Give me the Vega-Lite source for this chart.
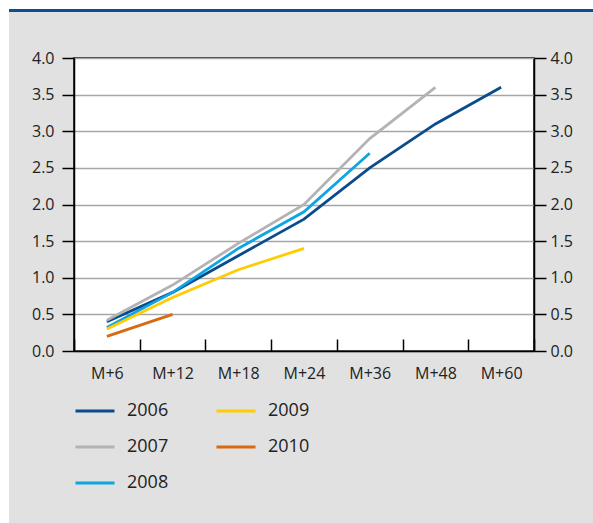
{
  "$schema": "https://vega.github.io/schema/vega-lite/v6.json",
  "background": "#e1e1e1",
  "padding": 0,
  "spacing": 0,
  "config": {
    "view": {"stroke": null},
    "font": "Open Sans",
    "axis": {"labelFont": "Open Sans", "labelFontSize": 16, "labelColor": "#222222", "title": null},
    "legend": {"labelFont": "Open Sans"}
  },
  "resolve": {"legend": {"color": "independent"}, "scale": {"color": "independent"}},
  "hconcat": [
    {
      "width": 9,
      "height": 523,
      "data": {"values": [{}]},
      "mark": {"type": "rect", "opacity": 0},
      "encoding": {},
      "view": {"fill": "white", "stroke": null}
    },
    {
      "spacing": 0,
      "resolve": {"legend": {"color": "independent"}, "scale": {"color": "independent"}},
      "vconcat": [
        {
          "width": 584,
          "height": 9,
          "data": {"values": [{}]},
          "mark": {"type": "rect", "opacity": 0},
          "encoding": {},
          "view": {"fill": "white", "stroke": null}
        },
        {
          "width": 584,
          "height": 3,
          "data": {"values": [{}]},
          "mark": {"type": "rect", "opacity": 0},
          "encoding": {},
          "view": {"fill": "#0b4f93", "stroke": null}
        },
        {
          "width": 584,
          "height": 37,
          "data": {"values": [{}]},
          "mark": {"type": "rect", "opacity": 0},
          "encoding": {},
          "view": {"fill": null, "stroke": null}
        },
        {
          "spacing": 0,
          "resolve": {"legend": {"color": "independent"}, "scale": {"color": "independent"}},
          "hconcat": [
            {
              "width": 21,
              "height": 1,
              "data": {"values": [{}]},
              "mark": {"type": "rect", "opacity": 0},
              "encoding": {},
              "view": {"fill": null, "stroke": null}
            },
            {
              "width": 460,
              "height": 293,
              "view": {"fill": "white", "stroke": "black", "strokeWidth": 1.5},
              "data": {"values": [
                {"year": "2006", "period": "M+6", "months": 6, "value": 0.4},
                {"year": "2006", "period": "M+12", "months": 12, "value": 0.8},
                {"year": "2006", "period": "M+18", "months": 18, "value": 1.3},
                {"year": "2006", "period": "M+24", "months": 24, "value": 1.8},
                {"year": "2006", "period": "M+36", "months": 36, "value": 2.5},
                {"year": "2006", "period": "M+48", "months": 48, "value": 3.1},
                {"year": "2006", "period": "M+60", "months": 60, "value": 3.6},
                {"year": "2007", "period": "M+6", "months": 6, "value": 0.42},
                {"year": "2007", "period": "M+12", "months": 12, "value": 0.9},
                {"year": "2007", "period": "M+18", "months": 18, "value": 1.47},
                {"year": "2007", "period": "M+24", "months": 24, "value": 2.0},
                {"year": "2007", "period": "M+36", "months": 36, "value": 2.9},
                {"year": "2007", "period": "M+48", "months": 48, "value": 3.6},
                {"year": "2008", "period": "M+6", "months": 6, "value": 0.32},
                {"year": "2008", "period": "M+12", "months": 12, "value": 0.8},
                {"year": "2008", "period": "M+18", "months": 18, "value": 1.4},
                {"year": "2008", "period": "M+24", "months": 24, "value": 1.9},
                {"year": "2008", "period": "M+36", "months": 36, "value": 2.7},
                {"year": "2009", "period": "M+6", "months": 6, "value": 0.3},
                {"year": "2009", "period": "M+12", "months": 12, "value": 0.73},
                {"year": "2009", "period": "M+18", "months": 18, "value": 1.11},
                {"year": "2009", "period": "M+24", "months": 24, "value": 1.4},
                {"year": "2010", "period": "M+6", "months": 6, "value": 0.2},
                {"year": "2010", "period": "M+12", "months": 12, "value": 0.5}
              ]},
              "encoding": {
                "x": {
                  "field": "period",
                  "type": "ordinal",
                  "sort": ["M+6", "M+12", "M+18", "M+24", "M+36", "M+48", "M+60"],
                  "scale": {"paddingInner": 0, "paddingOuter": 0},
                  "axis": {
                    "orient": "bottom",
                    "labelAngle": 0,
                    "tickBand": "extent",
                    "tickSize": -12,
                    "tickColor": "black",
                    "tickWidth": 1.5,
                    "domainColor": "black",
                    "domainWidth": 1.5,
                    "labelPadding": 26,
                    "grid": false
                  }
                }
              },
              "layer": [
                {
                  "mark": {"type": "line", "strokeWidth": 2.8},
                  "encoding": {
                    "y": {
                      "field": "value",
                      "type": "quantitative",
                      "scale": {"domain": [0, 4], "nice": false},
                      "axis": {
                        "orient": "left",
                        "values": [0, 0.5, 1, 1.5, 2, 2.5, 3, 3.5, 4],
                        "format": ".1f",
                        "grid": true,
                        "gridColor": "#a6a6a6",
                        "gridWidth": 1.5,
                        "domainColor": "black",
                        "domainWidth": 1.5,
                        "tickColor": "black",
                        "tickWidth": 1.5,
                        "tickSize": 12,
                        "labelPadding": 8
                      }
                    },
                    "color": {
                      "field": "year",
                      "type": "nominal",
                      "scale": {
                        "domain": ["2006", "2009", "2007", "2010", "2008"],
                        "range": ["#0a4b8c", "#ffcc00", "#b3b3b3", "#d9690f", "#0ea5e4"]
                      },
                      "legend": {
                        "title": null,
                        "orient": "bottom",
                        "direction": "horizontal",
                        "columns": 2,
                        "symbolType": "stroke",
                        "symbolSize": 1521,
                        "symbolStrokeWidth": 3,
                        "labelFontSize": 18,
                        "labelColor": "#222222",
                        "labelOffset": 11,
                        "columnPadding": 41,
                        "rowPadding": 6,
                        "offset": 9
                      }
                    },
                    "order": {"field": "months", "type": "quantitative"}
                  }
                },
                {
                  "mark": {"type": "point", "opacity": 0},
                  "encoding": {
                    "y": {
                      "field": "value",
                      "type": "quantitative",
                      "scale": {"domain": [0, 4], "nice": false},
                      "axis": {
                        "orient": "right",
                        "values": [0, 0.5, 1, 1.5, 2, 2.5, 3, 3.5, 4],
                        "format": ".1f",
                        "grid": false,
                        "domainColor": "black",
                        "domainWidth": 1.5,
                        "tickColor": "black",
                        "tickWidth": 1.5,
                        "tickSize": 12,
                        "labelPadding": 4
                      }
                    }
                  }
                }
              ],
              "resolve": {"scale": {"y": "shared"}, "axis": {"y": "independent"}}
            }
          ]
        }
      ]
    }
  ]
}
